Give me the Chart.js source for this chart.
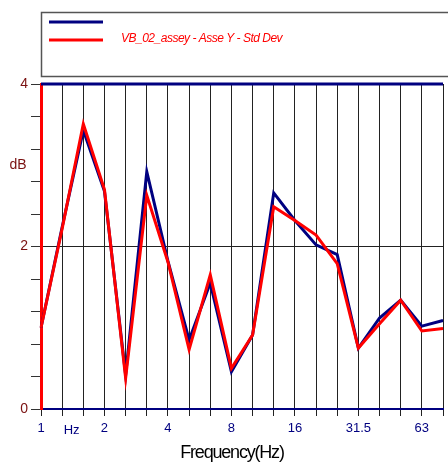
<!DOCTYPE html>
<html>
<head>
<meta charset="utf-8">
<script src="https://cdn.jsdelivr.net/npm/chart.js@4.4.1/dist/chart.umd.min.js"></script>
<style>
    html, body { margin: 0; padding: 0; background: #fff; }
    #wrap { width: 448px; height: 464px; }
</style>
</head>
<body>
<div id="wrap"><canvas id="chart" width="448" height="464"></canvas></div>
<script>
// Third-octave bands (Hz)
const bands = ['1', '1.25', '1.6', '2', '2.5', '3.15', '4', '5', '6.3', '8', '10', '12.5', '16', '20', '25', '31.5', '40', '50', '63', '80'];
const shownBands = ['1', '2', '4', '8', '16', '31.5', '63'];
const yTickLabels = [0, 2, 4];

// navy series (no name in legend)
const navyValues = [1.0, 2.24, 3.43, 2.68, 0.42, 2.92, 1.82, 0.85, 1.55, 0.46, 0.91, 2.66, 2.32, 2.02, 1.90, 0.75, 1.12, 1.34, 1.02, 1.09];
// VB_02_assey - Asse Y - Std Dev
const redValues = [1.0, 2.22, 3.51, 2.70, 0.38, 2.63, 1.81, 0.73, 1.65, 0.50, 0.91, 2.49, 2.32, 2.14, 1.79, 0.75, 1.05, 1.34, 0.96, 0.99];

const legendLabel = 'VB_02_assey - Asse Y - Std Dev';
const navy = '#000080';
const red = '#ff0000';
const darkRed = '#7a1010';

const extrasPlugin = {
    id: 'extras',
    afterDraw(chart) {
        const ctx = chart.ctx;
        const x = chart.scales.x, y = chart.scales.y;
        ctx.save();

        // legend box
        ctx.strokeStyle = '#555';
        ctx.lineWidth = 1.5;
        ctx.strokeRect(41.5, 12.5, 440, 64);
        ctx.lineWidth = 3;
        ctx.strokeStyle = navy;
        ctx.beginPath(); ctx.moveTo(49, 22); ctx.lineTo(103, 22); ctx.stroke();
        ctx.strokeStyle = red;
        ctx.beginPath(); ctx.moveTo(49, 40); ctx.lineTo(103, 40); ctx.stroke();
        ctx.fillStyle = red;
        ctx.font = 'italic 12px "Liberation Sans", Arial, sans-serif';
        ctx.letterSpacing = '-0.5px';
        ctx.textBaseline = 'middle';
        ctx.textAlign = 'left';
        ctx.fillText(legendLabel, 121, 39);

        // top border
        ctx.letterSpacing = '0px';
        ctx.strokeStyle = navy;
        ctx.lineWidth = 3;
        ctx.beginPath(); ctx.moveTo(chart.chartArea.left, chart.chartArea.top); ctx.lineTo(chart.chartArea.right, chart.chartArea.top); ctx.stroke();

        // unit labels
        ctx.fillStyle = darkRed;
        ctx.font = '14px "Liberation Sans", Arial, sans-serif';
        ctx.textAlign = 'center';
        ctx.fillText('dB', 18, y.getPixelForValue(3.0));
        ctx.fillStyle = navy;
        ctx.font = '13px "Liberation Sans", Arial, sans-serif';
        ctx.fillText('Hz', x.getPixelForValue(1.45), 430);

        // axis title
        ctx.fillStyle = '#000';
        ctx.font = '18px "Liberation Sans", Arial, sans-serif';
        ctx.letterSpacing = '-1.2px';
        ctx.fillText('Frequency(Hz)', 232, 453);
        ctx.restore();
    }
};

new Chart(document.getElementById('chart'), {
    type: 'line',
    data: {
        labels: bands,
        datasets: [
            { data: navyValues, borderColor: navy, borderWidth: 3, pointRadius: 0, tension: 0, fill: false, order: 1 },
            { data: redValues, borderColor: red, borderWidth: 3, pointRadius: 0, tension: 0, fill: false, order: 0 }
        ]
    },
    options: {
        responsive: false,
        animation: false,
        layout: { padding: { top: 84, right: 0, left: 0, bottom: 0 } },
        plugins: { legend: { display: false }, tooltip: { enabled: false } },
        scales: {
            x: {
                type: 'category',
                offset: false,
                afterFit: (s) => { s.height = 55; },
                grid: { color: '#222', lineWidth: 1, tickLength: 7 },
                border: { color: navy, width: 2 },
                ticks: {
                    autoSkip: false, maxRotation: 0, padding: 5,
                    color: navy,
                    font: { family: '"Liberation Sans", Arial, sans-serif', size: 13 },
                    callback: (v) => shownBands.includes(bands[v]) ? bands[v] : ''
                }
            },
            y: {
                min: 0, max: 4,
                afterFit: (s) => { s.width = 41; },
                grid: {
                    color: (c) => Math.abs(c.tick.value - 2) < 1e-6 ? '#222' : 'rgba(0,0,0,0)',
                    tickColor: '#333',
                    tickLength: 10
                },
                border: { color: red, width: 3 },
                ticks: {
                    stepSize: 0.4, padding: 3,
                    color: darkRed,
                    font: { family: '"Liberation Sans", Arial, sans-serif', size: 14 },
                    callback: (v) => yTickLabels.some(t => Math.abs(t - v) < 1e-6) ? String(Math.round(v)) : ''
                }
            }
        }
    },
    plugins: [extrasPlugin]
});
</script>
</body>
</html>
